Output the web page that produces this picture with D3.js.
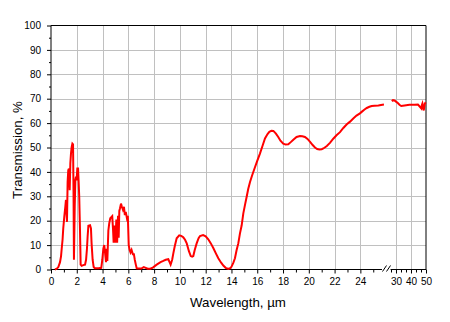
<!DOCTYPE html>
<html>
<head>
<meta charset="utf-8">
<script src="https://cdn.jsdelivr.net/npm/d3@7"></script>
<style>
  body { margin: 0; background: #fff; }
  svg { display: block; font-family: "Liberation Sans", Arial, sans-serif; }
</style>
</head>
<body>
<div id="app"></div>
<script>
// transmission spectrum
// short part of the axis (0..26 um)
const waveA = [0.3, 0.45, 0.57, 0.7, 0.78, 0.83, 0.9, 0.95, 1.03, 1.11, 1.16, 1.24, 1.29, 1.34, 1.39, 1.45, 1.5, 1.55, 1.6, 1.66, 1.71, 1.75, 1.78, 1.84, 1.89, 1.94, 1.99, 2.04, 2.1, 2.14, 2.19, 2.25, 2.3, 2.38, 2.5, 2.64, 2.72, 2.79, 2.84, 2.9, 3.03, 3.1, 3.15, 3.23, 3.31, 3.4, 3.7, 3.9, 3.98, 4.06, 4.13, 4.19, 4.27, 4.32, 4.37, 4.45, 4.52, 4.6, 4.68, 4.75, 4.81, 4.86, 4.94, 4.99, 5.07, 5.13, 5.2, 5.25, 5.3, 5.35, 5.43, 5.5, 5.58, 5.66, 5.73, 5.8, 5.89, 5.96, 6.03, 6.1, 6.17, 6.25, 6.35, 6.43, 6.5, 6.58, 6.65, 6.8, 7.0, 7.2, 7.3, 7.5, 7.7, 7.9, 8.2, 8.5, 8.71, 8.9, 9.1, 9.2, 9.28, 9.4, 9.49, 9.6, 9.75, 9.95, 10.1, 10.26, 10.4, 10.53, 10.7, 10.84, 10.95, 11.04, 11.15, 11.3, 11.45, 11.56, 11.8, 12.0, 12.2, 12.4, 12.6, 12.8, 12.98, 13.2, 13.37, 13.55, 13.76, 13.9, 14.0, 14.15, 14.27, 14.4, 14.53, 14.66, 14.79, 14.92, 15.05, 15.18, 15.3, 15.44, 15.6, 15.83, 16.0, 16.21, 16.4, 16.6, 16.8, 16.94, 17.1, 17.25, 17.45, 17.63, 17.8, 18.02, 18.2, 18.41, 18.6, 18.8, 19.05, 19.32, 19.5, 19.7, 19.9, 20.1, 20.3, 20.48, 20.65, 20.82, 21.0, 21.13, 21.4, 21.64, 21.9, 22.15, 22.42, 22.68, 22.95, 23.2, 23.45, 23.7, 23.97, 24.1, 24.3, 24.5, 24.7, 24.88, 25.1, 25.4, 25.6, 25.83];
const transA = [0, 0.3, 1, 3, 5.5, 8.5, 12.4, 16.8, 21.6, 25.7, 28.5, 19.5, 35.9, 40.7, 41.3, 32.5, 43.5, 47.5, 50, 51.6, 51.3, 30, 4, 25.7, 36.6, 38, 36.6, 41.4, 41.4, 36.6, 29.8, 16, 2, 1.5, 1.8, 2, 4, 8.5, 13.4, 17.9, 18.1, 16.8, 10.6, 4, 1, 0.5, 0.5, 0.7, 4, 8.5, 10, 7, 3, 8.5, 3.5, 16, 19, 21, 21.5, 21.9, 16.8, 11, 18, 11, 20.5, 11, 22, 13, 24, 25, 27, 25.7, 24.5, 25.7, 22.3, 23.6, 21, 22, 10, 8, 7, 8, 6.3, 6.3, 4, 2, 0.5, 0.4, 0.4, 1, 0.8, 0.3, 0.3, 0.8, 2, 3, 3.5, 4, 4.2, 3, 2, 4, 6.6, 9.5, 12.8, 14, 13.8, 13.2, 12.2, 10.7, 7.5, 5.5, 5.3, 5.5, 8, 10.7, 12.8, 13.7, 14.1, 13.6, 12.4, 10.7, 8.7, 6.5, 4.6, 2.8, 1.6, 0.7, 0.2, 0.5, 1.1, 2.8, 4.6, 8, 10.7, 14.8, 18, 23, 26.5, 29.8, 33, 35.9, 38.5, 42, 44.5, 47.5, 50.5, 53.7, 55.5, 56.4, 56.9, 56.8, 55.7, 54.3, 52.8, 51.6, 51.2, 51.3, 52.2, 53.2, 54.3, 54.7, 54.6, 54.3, 53.5, 52.3, 51, 50, 49.4, 49.2, 49.3, 49.6, 50.6, 51.9, 53.6, 55, 56.3, 58, 59.5, 60.6, 61.9, 63.1, 64, 64.6, 65.5, 66.2, 66.7, 67, 67.1, 67.2, 67.4, 67.6];
// compressed part after the break (27..50 um)
const waveB = [27.2, 28, 29, 30, 31.2, 32.3, 33.5, 35.7, 39, 42.4, 44.6, 45.8, 46.9, 47.3, 47.6, 48.1, 48.5, 49.2, 49.8];
const transB = [69, 69.4, 69.3, 68.8, 68.2, 67.5, 67, 67.2, 67.5, 67.5, 67.6, 66.8, 66, 67.5, 68, 66.3, 65.2, 68, 68.5];

const xMajorA = [0, 2, 4, 6, 8, 10, 12, 14, 16, 18, 20, 22, 24];
const xMinorA = d3.range(1, 26, 2);
const xMajorB = [30, 40, 50];
const xMinorB = [26.67, 33.33, 36.67, 43.33, 46.67];
const yMajor = [0, 10, 20, 30, 40, 50, 60, 70, 80, 90, 100];
const yMinor = [5, 15, 25, 35, 45, 55, 65, 75, 85, 95];

const W = 450, H = 322;
const pLeft = 51, pRight = 426, pTop = 25.5, pBottom = 269.5;

const svg = d3.select("#app").append("svg").attr("width", W).attr("height", H);

const xA = d3.scaleLinear().domain([0, 26]).range([pLeft, pLeft + 26 * 12.89]);
const xB = d3.scaleLinear().domain([26.67, 50]).range([391, pRight]);
const y = d3.scaleLinear().domain([0, 100]).range([pBottom, pTop]);

// grid
const grid = svg.append("g").attr("stroke", "#c0c0c0").attr("stroke-width", 1);
grid.selectAll(".gy").data(yMajor.slice(1, -1)).enter().append("line")
  .attr("x1", pLeft).attr("x2", pRight)
  .attr("y1", d => Math.round(y(d)) + 0.5).attr("y2", d => Math.round(y(d)) + 0.5);
grid.selectAll(".gxa").data(xMajorA.slice(1)).enter().append("line")
  .attr("x1", d => Math.round(xA(d)) + 0.5).attr("x2", d => Math.round(xA(d)) + 0.5)
  .attr("y1", pTop).attr("y2", pBottom);
grid.selectAll(".gxb").data(xMajorB.slice(0, -1)).enter().append("line")
  .attr("x1", d => Math.round(xB(d)) + 0.5).attr("x2", d => Math.round(xB(d)) + 0.5)
  .attr("y1", pTop).attr("y2", pBottom);

// axes
function styleAxis(g) {
  g.select(".domain").remove();
  g.selectAll("line").attr("stroke", "#000");
  g.selectAll("text").attr("fill", "#000").style("font-size", "10px");
}
svg.append("g").attr("transform", `translate(0,${pBottom})`)
  .call(d3.axisBottom(xA).tickValues(xMajorA).tickSize(4).tickPadding(4).tickFormat(d3.format("d")))
  .call(styleAxis);
svg.append("g").attr("transform", `translate(0,${pBottom})`)
  .call(d3.axisBottom(xA).tickValues(xMinorA).tickSize(3).tickFormat(""))
  .call(styleAxis);
svg.append("g").attr("transform", `translate(0,${pBottom})`)
  .call(d3.axisBottom(xB).tickValues(xMajorB).tickSize(4).tickPadding(4).tickFormat(d3.format("d")))
  .call(styleAxis);
svg.append("g").attr("transform", `translate(0,${pBottom})`)
  .call(d3.axisBottom(xB).tickValues(xMinorB).tickSize(3).tickFormat(""))
  .call(styleAxis);
svg.append("g").attr("transform", `translate(${pLeft},0)`)
  .call(d3.axisLeft(y).tickValues(yMajor).tickSize(4).tickPadding(6))
  .call(styleAxis);
svg.append("g").attr("transform", `translate(${pLeft},0)`)
  .call(d3.axisLeft(y).tickValues(yMinor).tickSize(2).tickFormat(""))
  .call(styleAxis);

// frame with a gap at the break
const frame = svg.append("g").attr("stroke", "#000").attr("stroke-width", 1).attr("fill", "none");
frame.append("line").attr("x1", pLeft).attr("x2", pRight).attr("y1", pTop).attr("y2", pTop);
frame.append("line").attr("x1", pLeft).attr("x2", pLeft).attr("y1", pTop).attr("y2", pBottom);
frame.append("line").attr("x1", pRight).attr("x2", pRight).attr("y1", pTop).attr("y2", pBottom);
frame.append("line").attr("x1", pLeft).attr("x2", 382).attr("y1", pBottom).attr("y2", pBottom);
frame.append("line").attr("x1", 390.5).attr("x2", pRight).attr("y1", pBottom).attr("y2", pBottom);
frame.append("line").attr("x1", 382.5).attr("y1", pBottom + 2).attr("x2", 386.5).attr("y2", pBottom - 4);
frame.append("line").attr("x1", 386.5).attr("y1", pBottom + 2).attr("x2", 390.5).attr("y2", pBottom - 4);

// spectrum
const line = d3.line().x(d => d[0]).y(d => y(d[1]));
svg.append("path")
  .datum(waveA.map((w, i) => [xA(w), transA[i]]))
  .attr("d", line).attr("fill", "none").attr("stroke", "#ff0000").attr("stroke-width", 2)
  .attr("stroke-linejoin", "miter");
svg.append("path")
  .datum(waveB.map((w, i) => [xB(w), transB[i]]))
  .attr("d", line).attr("fill", "none").attr("stroke", "#ff0000").attr("stroke-width", 2);

// titles
svg.append("text").attr("x", 238).attr("y", 307).attr("text-anchor", "middle")
  .style("font-size", "13.3px").text("Wavelength, µm");
svg.append("text").attr("transform", "translate(22,150) rotate(-90)").attr("text-anchor", "middle")
  .style("font-size", "13.3px").text("Transmission, %");
</script>
</body>
</html>
